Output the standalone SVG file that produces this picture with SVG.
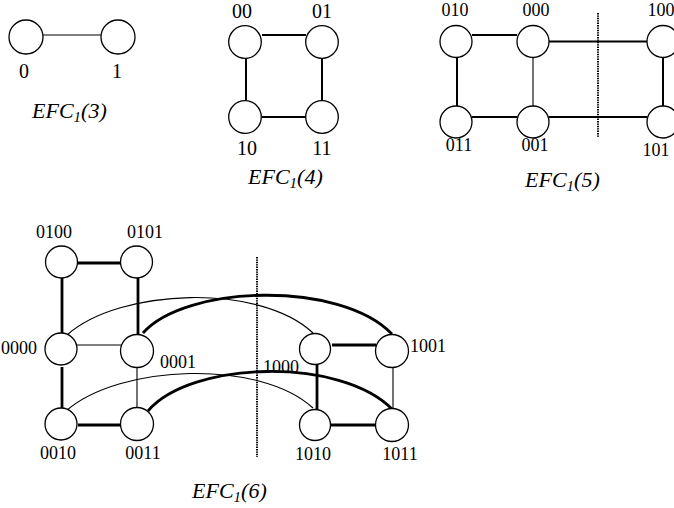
<svg xmlns="http://www.w3.org/2000/svg" width="674" height="508" viewBox="0 0 674 508">
  <style>
    .node { fill: #fff; stroke: #000; stroke-width: 1.3; }
    .lbl { font-family: "Liberation Serif", "Times New Roman", serif; font-size: 18px; fill: #000; text-anchor: middle; }
    .big { font-size: 20px; }
    .title { font-family: "Liberation Serif", "Times New Roman", serif; font-style: italic; font-size: 22px; fill: #000; }
    .sub { font-size: 15px; }
    .thin { stroke: #000; stroke-width: 1.1; fill: none; }
    .mid { stroke: #000; stroke-width: 2; fill: none; }
    .thick { stroke: #000; stroke-width: 2.8; fill: none; }
    .cut { stroke: #000; stroke-width: 2; stroke-dasharray: 1.4 1; fill: none; }
  </style>

  <!-- connectors -->
  <g id="connectors">
    <!-- EFC1(3) -->
    <line class="thin" x1="43" y1="35" x2="101" y2="35"/>
    <!-- EFC1(4) -->
    <line class="mid" x1="262" y1="35" x2="306" y2="35"/>
    <line class="mid" x1="246" y1="57" x2="246" y2="100"/>
    <line class="mid" x1="322" y1="58" x2="322" y2="100"/>
    <line class="mid" x1="262" y1="117" x2="306" y2="117"/>
    <!-- EFC1(5) -->
    <line class="mid" x1="472" y1="35" x2="517" y2="35"/>
    <line class="mid" x1="549" y1="41.5" x2="647" y2="41.5"/>
    <line class="mid" x1="457" y1="57" x2="457" y2="106"/>
    <line class="thin" x1="533" y1="58" x2="533" y2="106"/>
    <line class="mid" x1="663" y1="58" x2="663" y2="106"/>
    <line class="mid" x1="472" y1="117" x2="517" y2="117"/>
    <line class="mid" x1="549" y1="117" x2="647" y2="117"/>
    <line class="cut" x1="598" y1="13" x2="598" y2="137"/>
    <!-- EFC1(6) -->
    <line class="thick" x1="78" y1="263" x2="121" y2="263"/>
    <line class="thick" x1="62" y1="278" x2="62" y2="335"/>
    <line class="thick" x1="138" y1="278" x2="138" y2="335"/>
    <line class="thin" x1="77" y1="345" x2="121" y2="345"/>
    <line class="thick" x1="62" y1="367" x2="62" y2="408"/>
    <line class="thin" x1="137" y1="367" x2="137" y2="408"/>
    <line class="thick" x1="78" y1="425" x2="121" y2="425"/>
    <line class="thick" x1="332" y1="345" x2="376" y2="345"/>
    <line class="thick" x1="317" y1="365" x2="317" y2="410"/>
    <line class="thin" x1="393" y1="368" x2="393" y2="409"/>
    <line class="thick" x1="331" y1="425" x2="376" y2="425"/>
    <path class="thin" d="M67,335 C120,288 260,283 313,333"/>
    <path class="thick" d="M143,333 C185,285 340,280 392,334"/>
    <path class="thin" d="M66,411 C120,364 260,359 313,408"/>
    <path class="thick" d="M148,411 C190,361 341,356 393,410"/>
    <line class="cut" x1="257" y1="257" x2="257" y2="457"/>
  </g>

  <!-- EFC1(3) -->
  <g id="efc3-0"><circle class="node" cx="26" cy="37" r="17"/><text class="lbl big" x="24" y="78">0</text></g>
  <g id="efc3-1"><circle class="node" cx="118" cy="37" r="17"/><text class="lbl big" x="117" y="78">1</text></g>
  <text class="title" x="32" y="118">EFC<tspan class="sub" dy="4">1</tspan><tspan dy="-4">(3)</tspan></text>

  <!-- EFC1(4) -->
  <g id="efc4-00"><circle class="node" cx="245" cy="42" r="16.3"/><text class="lbl big" x="242" y="18">00</text></g>
  <g id="efc4-01"><circle class="node" cx="322" cy="42" r="16.3"/><text class="lbl big" x="322" y="18">01</text></g>
  <g id="efc4-10"><circle class="node" cx="245" cy="117" r="16.3"/><text class="lbl big" x="247" y="155">10</text></g>
  <g id="efc4-11"><circle class="node" cx="322" cy="117" r="16.3"/><text class="lbl big" x="322" y="155">11</text></g>
  <text class="title" x="248" y="184">EFC<tspan class="sub" dy="4">1</tspan><tspan dy="-4">(4)</tspan></text>

  <!-- EFC1(5) -->
  <g id="efc5-010"><circle class="node" cx="456" cy="41.5" r="16"/><text class="lbl" x="455" y="16">010</text></g>
  <g id="efc5-000"><circle class="node" cx="533" cy="41.5" r="16"/><text class="lbl" x="536" y="16">000</text></g>
  <g id="efc5-100"><circle class="node" cx="663" cy="41.5" r="16"/><text class="lbl" x="661" y="16">100</text></g>
  <g id="efc5-011"><circle class="node" cx="456" cy="122" r="16"/><text class="lbl" x="459" y="151">011</text></g>
  <g id="efc5-001"><circle class="node" cx="533" cy="122" r="16"/><text class="lbl" x="535" y="151">001</text></g>
  <g id="efc5-101"><circle class="node" cx="663" cy="122" r="16"/><text class="lbl" x="656" y="156">101</text></g>
  <text class="title" x="525" y="187">EFC<tspan class="sub" dy="4">1</tspan><tspan dy="-4">(5)</tspan></text>

  <!-- EFC1(6) -->
  <g id="efc6-0100"><circle class="node" cx="61.5" cy="262" r="16"/><text class="lbl" x="54" y="238">0100</text></g>
  <g id="efc6-0101"><circle class="node" cx="136.5" cy="262" r="16"/><text class="lbl" x="145" y="238">0101</text></g>
  <g id="efc6-0000"><circle class="node" cx="61" cy="349" r="16"/><text class="lbl" x="19" y="354">0000</text></g>
  <g id="efc6-0001"><circle class="node" cx="137" cy="351" r="16.5"/><text class="lbl" x="178" y="368">0001</text></g>
  <g id="efc6-0010"><circle class="node" cx="61" cy="424" r="16"/><text class="lbl" x="58" y="459">0010</text></g>
  <g id="efc6-0011"><circle class="node" cx="137" cy="424" r="16.5"/><text class="lbl" x="143" y="459">0011</text></g>
  <g id="efc6-1000"><circle class="node" cx="315" cy="349" r="15.5"/><text class="lbl" x="281" y="373">1000</text></g>
  <g id="efc6-1001"><circle class="node" cx="392" cy="351" r="16.5"/><text class="lbl" x="428" y="352">1001</text></g>
  <g id="efc6-1010"><circle class="node" cx="315" cy="425" r="15.5"/><text class="lbl" x="313" y="460">1010</text></g>
  <g id="efc6-1011"><circle class="node" cx="392" cy="425" r="16.5"/><text class="lbl" x="400" y="460">1011</text></g>
  <text class="title" x="192" y="498" font-size="23">EFC<tspan class="sub" dy="4">1</tspan><tspan dy="-4">(6)</tspan></text>
</svg>
